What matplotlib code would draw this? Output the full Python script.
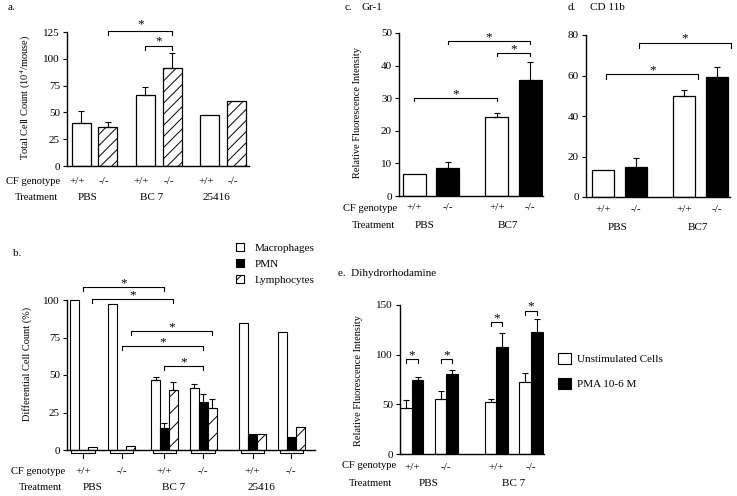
import numpy as np
import matplotlib
matplotlib.use('Agg')
import matplotlib.pyplot as plt
from matplotlib.patches import Patch

plt.rcParams['font.family'] = ['Liberation Serif', 'DejaVu Serif']
plt.rcParams['mathtext.fontset'] = 'stix'
plt.rcParams['hatch.linewidth'] = 0.7
plt.rcParams['font.size'] = 8

# === data ===
# a. total cell count
a_treat = ['PBS', 'BC 7', '25416']
a_geno = ['+/+', '-/-']
a_wt = [40, 66, 48]
a_wt_err = [11, 8, 0]
a_ko = [36, 91, 61]
a_ko_err = [5, 14, 0]

# b. differential cell count, groups: PBS+/+, PBS-/-, BC7+/+, BC7-/-, 25416+/+, 25416-/-
b_treat = ['PBS', 'BC 7', '25416']
b_mac = [100, 97.5, 46.7, 41.1, 84.5, 78.5]
b_mac_err = [0, 0, 2.2, 2.7, 0, 0]
b_pmn = [0, 0, 14.4, 31.8, 10.7, 8.4]
b_pmn_err = [0, 0, 3.8, 5.5, 0, 0]
b_lym = [2, 2.7, 40, 27.8, 10.7, 15.1]
b_lym_err = [0, 0, 5.1, 6.0, 0, 0]
b_labels = ['Macrophages', 'PMN', 'Lymphocytes']

# c. Gr-1
c_treat = ['PBS', 'BC7']
c_wt = [6.7, 24.1]
c_wt_err = [0, 1.4]
c_ko = [8.5, 35.6]
c_ko_err = [2.0, 5.4]

# d. CD 11b
d_treat = ['PBS', 'BC7']
d_wt = [13.3, 49.9]
d_wt_err = [0, 2.9]
d_ko = [14.7, 59.4]
d_ko_err = [4.5, 4.9]

# e. Dihydrorhodamine, pairs: PBS+/+, PBS-/-, BC7+/+, BC7-/-
e_treat = ['PBS', 'BC 7']
e_unstim = [46, 55.4, 52, 72.2]
e_unstim_err = [8.4, 8.3, 3, 9.7]
e_pma = [74.5, 80.5, 108, 122.9]
e_pma_err = [3.3, 4.1, 13.5, 12.7]
e_labels = ['Unstimulated Cells', 'PMA 10-6 M']

W, H = 737, 496
fig = plt.figure(figsize=(W / 100, H / 100), dpi=100)
PT = 0.72  # points per pixel at dpi 100
FS = 8


def px_axes(left, right, zero_y, ref_y, ref_val, ytop, ymax, step):
    ppu = (zero_y - ref_y) / ref_val
    top = zero_y - ytop * ppu
    ax = fig.add_axes([left / W, 1 - zero_y / H, (right - left) / W, (zero_y - top) / H])
    ax.set_ylim(0, ytop)
    ax.spines[['top', 'right']].set_visible(False)
    ax.spines['left'].set_bounds(0, ymax)
    ax.spines[['left', 'bottom']].set_linewidth(1.0)
    ax.set_xticks([])
    ax.set_yticks(np.arange(0, ymax + 1, step))
    ax.tick_params(axis='y', direction='out', length=3, width=0.8, pad=2, labelsize=FS)
    return ax


def ftext(x, y, s, size=FS, **kw):
    fig.text(x / W, 1 - y / H, s, va='center', fontsize=size, **kw)


def under(ax, x, s, dy, dx=0):
    ax.annotate(s, xy=(x, 0), xycoords=('data', 'axes fraction'),
                xytext=(dx * PT, -dy * PT), textcoords='offset points',
                ha='center', va='center', fontsize=FS)


def errs(ax, x, top, err):
    err = np.asarray(err)
    m = err > 0
    ax.errorbar(np.asarray(x)[m], np.asarray(top)[m], yerr=[np.zeros(m.sum()), err[m]],
                fmt='none', ecolor='k', elinewidth=0.8, capsize=2.5, capthick=0.8)


def sig(ax, x1, x2, y, drop, gap=-1.5):
    ax.plot([x1, x1, x2, x2], [y - drop, y, y, y - drop], color='k', lw=0.8, clip_on=False)
    ax.annotate('*', xy=((x1 + x2) / 2, y), xytext=(0, gap), textcoords='offset points',
                ha='center', va='bottom', fontsize=9.5)


# ---------- a ----------
ax = px_axes(67, 249, 166, 32, 125, 145, 125, 25)
ax.set_xlim(0, 9.6)
tc = 1.45 + 3.4 * np.arange(3)
wt_x, ko_x = tc - 0.71, tc + 0.71
ax.bar(wt_x, a_wt, width=1, color='white', edgecolor='k', lw=0.9)
ax.bar(ko_x, a_ko, width=1, color='white', edgecolor='k', lw=0.9, hatch='///')
errs(ax, wt_x, a_wt, a_wt_err)
errs(ax, ko_x, a_ko, a_ko_err)
sig(ax, ko_x[0], ko_x[1], 125.5, 3, gap=0.8)
sig(ax, wt_x[1], ko_x[1], 111.5, 3, gap=-0.5)
for i in range(3):
    under(ax, wt_x[i], a_geno[0], 15, -4)
    under(ax, ko_x[i], a_geno[1], 15, -4)
    under(ax, tc[i], a_treat[i], 31, -7)
ax.set_ylabel('Total Cell Count (10$^4$/mouse)', fontsize=7.5)
ax.yaxis.set_label_coords(33 / W, 1 - 97 / H, transform=fig.transFigure)
ftext(8, 8, 'a.')
ftext(60, 181, 'CF genotype', size=7.6, ha='right')
ftext(58, 197, 'Treatment', size=7.6, ha='right')

# ---------- b ----------
ax = px_axes(67, 315, 450, 300, 100, 118, 100, 25)
ax.set_xlim(0, 27.6)
tc = np.array([3.95, 13.0, 22.8])
gc = np.ravel(np.column_stack([tc - 2.15, tc + 2.15]))
ax.bar(gc - 1, b_mac, width=1, color='white', edgecolor='k', lw=0.8)
ax.bar(gc, b_pmn, width=1, color='black', edgecolor='k', lw=0.8)
ax.bar(gc + 1, b_lym, width=1, color='white', edgecolor='k', lw=0.8, hatch='//')
errs(ax, gc - 1, b_mac, b_mac_err)
errs(ax, gc, b_pmn, b_pmn_err)
errs(ax, gc + 1, b_lym, b_lym_err)
sig(ax, gc[0], gc[2], 108.7, 2.5)
sig(ax, gc[0] + 1, gc[2] + 1, 100.7, 2.5)
sig(ax, gc[1] + 1, gc[3] + 1, 79.3, 2.5)
sig(ax, gc[1], gc[3], 69.3, 2.5)
sig(ax, gc[2], gc[3], 56, 2.5)
for i, g in enumerate(gc):
    ax.plot([g - 1.3, g - 1.3, g + 1.3, g + 1.3], [-0.6, -2.2, -2.2, -0.6], color='k', lw=0.8, clip_on=False)
    ax.plot([g, g], [-2.2, -5.3], color='k', lw=0.8, clip_on=False)
    under(ax, g, a_geno[i % 2], 22)
for i in range(3):
    under(ax, tc[i], b_treat[i], 38, -10)
ax.set_ylabel('Differential Cell Count (%)', fontsize=7.5)
ax.yaxis.set_label_coords(32 / W, 1 - 364 / H, transform=fig.transFigure)
ftext(13, 253, 'b.')
ftext(65, 472, 'CF genotype', size=7.6, ha='right')
ftext(62, 488, 'Treatment', size=7.6, ha='right')
fig.legend([Patch(facecolor='white', edgecolor='k', lw=0.8),
            Patch(facecolor='black', edgecolor='k', lw=0.8),
            Patch(facecolor='white', edgecolor='k', lw=0.8, hatch='//')],
           b_labels, loc='upper left', bbox_to_anchor=(236 / W, 1 - 243 / H),
           frameon=False, handlelength=0.75, handleheight=0.75, handletextpad=0.9,
           labelspacing=0.55, fontsize=FS, borderaxespad=0, borderpad=0)

# ---------- c ----------
ax = px_axes(399, 543, 196, 33, 50, 53, 50, 10)
ax.set_xlim(0, 6.26)
tc = np.array([1.39, 4.98])
wt_x, ko_x = tc - 0.72, tc + 0.72
ax.bar(wt_x, c_wt, width=1, color='white', edgecolor='k', lw=0.9)
ax.bar(ko_x, c_ko, width=1, color='black', edgecolor='k', lw=0.9)
errs(ax, wt_x, c_wt, c_wt_err)
errs(ax, ko_x, c_ko, c_ko_err)
sig(ax, ko_x[0], ko_x[1], 47.6, 0.9)
sig(ax, wt_x[1], ko_x[1], 43.8, 0.9)
sig(ax, wt_x[0], wt_x[1], 30, 0.9)
for i in range(2):
    under(ax, wt_x[i], a_geno[0], 12)
    under(ax, ko_x[i], a_geno[1], 12)
    under(ax, tc[i], c_treat[i], 30, -6)
ax.set_ylabel('Relative Fluorescence Intensity', fontsize=7.5)
ax.yaxis.set_label_coords(362 / W, 1 - 112 / H, transform=fig.transFigure)
ftext(345, 8, 'c.')
ftext(362, 8, 'Gr-1')
ftext(397, 208, 'CF genotype', size=7.6, ha='right')
ftext(395, 226, 'Treatment', size=7.6, ha='right')

# ---------- d ----------
ax = px_axes(586, 730, 197, 35, 80, 85, 80, 20)
ax.set_xlim(0, 6.55)
tc = np.array([1.52, 5.2])
wt_x, ko_x = tc - 0.75, tc + 0.75
ax.bar(wt_x, d_wt, width=1, color='white', edgecolor='k', lw=0.9)
ax.bar(ko_x, d_ko, width=1, color='black', edgecolor='k', lw=0.9)
errs(ax, wt_x, d_wt, d_wt_err)
errs(ax, ko_x, d_ko, d_ko_err)
sig(ax, ko_x[0] + 0.15, ko_x[1] + 0.65, 76.2, 2.5)
sig(ax, wt_x[0] + 0.15, wt_x[1] + 0.65, 60.7, 2.5)
for i in range(2):
    under(ax, wt_x[i], a_geno[0], 13)
    under(ax, ko_x[i], a_geno[1], 13)
    under(ax, tc[i], d_treat[i], 31, -2)
ftext(568, 8, 'd.')
ftext(590, 8, 'CD 11b')

# ---------- e ----------
ax = px_axes(400, 544, 454, 305, 150, 160, 150, 50)
ax.set_xlim(0, 12.5)
tc = np.array([2.52, 9.87])
pc = np.ravel(np.column_stack([tc - 1.5, tc + 1.5]))
ax.bar(pc - 0.5, e_unstim, width=1, color='white', edgecolor='k', lw=0.8)
ax.bar(pc + 0.5, e_pma, width=1, color='black', edgecolor='k', lw=0.8)
errs(ax, pc - 0.5, e_unstim, e_unstim_err)
errs(ax, pc + 0.5, e_pma, e_pma_err)
for x, y in zip(pc, [95.4, 95.4, 132.6, 144.3]):
    sig(ax, x - 0.5, x + 0.5, y, 4)
for i, p in enumerate(pc):
    under(ax, p, a_geno[i % 2], 13)
for i in range(2):
    under(ax, tc[i], e_treat[i], 29)
ax.set_ylabel('Relative Fluorescence Intensity', fontsize=7.5)
ax.yaxis.set_label_coords(363 / W, 1 - 380 / H, transform=fig.transFigure)
ftext(338, 274, 'e.  Dihydrorhodamine')
ftext(396, 466, 'CF genotype', size=7.6, ha='right')
ftext(392, 483, 'Treatment', size=7.6, ha='right')
fig.legend([Patch(facecolor='white', edgecolor='k', lw=0.8),
            Patch(facecolor='black', edgecolor='k', lw=0.8)],
           e_labels, loc='upper left', bbox_to_anchor=(558 / W, 1 - 353 / H),
           frameon=False, handlelength=1.15, handleheight=1.15, handletextpad=0.6,
           labelspacing=1.25, fontsize=FS, borderaxespad=0, borderpad=0)

fig.savefig('out.png', dpi=100)
